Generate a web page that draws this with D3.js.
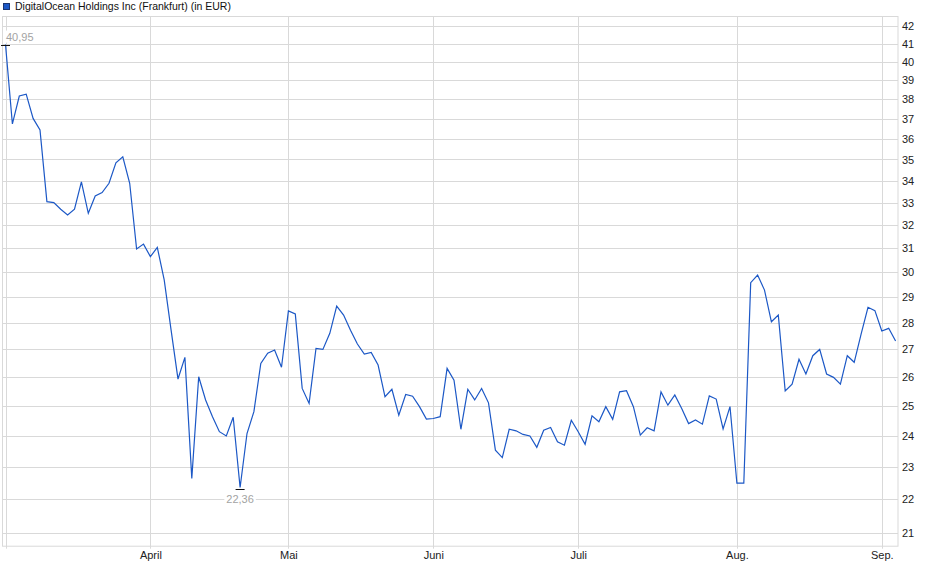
<!DOCTYPE html>
<html>
<head>
<meta charset="utf-8">
<script src="https://cdn.jsdelivr.net/npm/d3@7"></script>
<style>
  body { margin: 0; background: #fff; }
  text { font-family: "Liberation Sans", Arial, sans-serif; }
</style>
</head>
<body>
<div id="chart-area"></div>
<script>
/**
 * DigitalOcean Holdings Inc (Frankfurt), daily close in EUR.
 * One point per trading day, log price axis on the right.
 */

// Data -------------------------------------------------
const title = "DigitalOcean Holdings Inc (Frankfurt) (in EUR)"

const prices = [
  40.95, 36.74, 38.17, 38.27, 37.02, 36.44, 33.04, 33.00, 32.70, 32.45,
  32.70, 33.95, 32.52, 33.30, 33.45, 33.88, 34.84, 35.13, 33.88, 30.97,
  31.18, 30.65, 31.04, 29.69, 27.72, 25.93, 26.71, 22.64, 26.01, 25.20,
  24.63, 24.13, 23.99, 24.61, 22.36, 24.07, 24.80, 26.49, 26.86, 26.98,
  26.35, 28.46, 28.34, 25.60, 25.08, 27.04, 27.00, 27.60, 28.65, 28.30,
  27.72, 27.20, 26.83, 26.89, 26.43, 25.31, 25.57, 24.68, 25.39, 25.33,
  24.97, 24.55, 24.57, 24.63, 26.31, 25.89, 24.21, 25.57, 25.20, 25.60,
  25.10, 23.53, 23.29, 24.21, 24.16, 24.04, 23.99, 23.62, 24.18, 24.27,
  23.80, 23.69, 24.51, 24.13, 23.72, 24.66, 24.46, 24.97, 24.54, 25.48,
  25.52, 24.97, 24.02, 24.26, 24.16, 25.48, 25.02, 25.37, 24.91, 24.40,
  24.52, 24.38, 25.34, 25.23, 24.22, 24.97, 22.49, 22.49, 29.58, 29.89,
  29.28, 28.04, 28.30, 25.51, 25.75, 26.64, 26.11, 26.77, 27.00, 26.11,
  25.99, 25.75, 26.77, 26.53, 27.57, 28.60, 28.47, 27.69, 27.79, 27.31
]

// first trading day of each month (index into prices)
const monthIdx = [0, 21, 41, 62, 83, 106, 127]
const monthLabels = ["", "April", "Mai", "Juni", "Juli", "Aug.", "Sep."]

const yTicks = [21, 22, 23, 24, 25, 26, 27, 28, 29, 30, 31, 32, 33, 34, 35, 36, 37, 38, 39, 40, 41, 42]
const yDomain = [20.65, 42.58]

// Canvas setup -----------------------------------------
const W = 940, H = 579
const PLOT = {LEFT: 2.5, RIGHT: 898, TOP: 16, BOTTOM: 545.7}
const LINE_COLOR = "#1c58c6"
const GRID_COLOR = "#d9d9d9"

const svg = d3.select("#chart-area").append("svg")
    .attr("width", W)
    .attr("height", H)

// Scales -----------------------------------------------
const xScale = d3.scaleLinear()
    .domain([0, prices.length - 1])
    .range([5.5, 5.5 + (prices.length - 1) * 6.9])

const yScale = d3.scaleLog()
    .domain(yDomain)
    .range([PLOT.BOTTOM, PLOT.TOP])

// Grid -------------------------------------------------
svg.append("g")
    .selectAll("line")
    .data(yTicks)
    .join("line")
    .attr("x1", PLOT.LEFT)
    .attr("x2", PLOT.RIGHT)
    .attr("y1", d => Math.round(yScale(d)) + 0.5)
    .attr("y2", d => Math.round(yScale(d)) + 0.5)
    .attr("stroke", GRID_COLOR)

svg.append("g")
    .selectAll("line")
    .data(monthIdx)
    .join("line")
    .attr("x1", d => Math.round(xScale(d)) + 0.5)
    .attr("x2", d => Math.round(xScale(d)) + 0.5)
    .attr("y1", PLOT.TOP)
    .attr("y2", PLOT.BOTTOM + 3)
    .attr("stroke", GRID_COLOR)

// frame
svg.append("rect")
    .attr("x", PLOT.LEFT)
    .attr("y", PLOT.TOP + 0.5)
    .attr("width", PLOT.RIGHT - PLOT.LEFT)
    .attr("height", PLOT.BOTTOM - PLOT.TOP)
    .attr("fill", "none")
    .attr("stroke", GRID_COLOR)

// Axes labels ------------------------------------------
const yAxis = d3.axisRight(yScale)
    .tickValues(yTicks)
    .tickFormat(d3.format("d"))
    .tickSize(0)
    .tickPadding(4)

svg.append("g")
    .attr("class", "y-axis")
    .attr("transform", `translate(${PLOT.RIGHT},0)`)
    .call(yAxis)
    .call(g => g.select(".domain").remove())
    .selectAll("text")
    .attr("font-size", "11px")
    .attr("font-family", "Liberation Sans, Arial, sans-serif")
    .attr("fill", "#222")

const xAxis = d3.axisBottom(xScale)
    .tickValues(monthIdx)
    .tickFormat((d, i) => monthLabels[i])
    .tickSize(0)
    .tickPadding(6)

svg.append("g")
    .attr("class", "x-axis")
    .attr("transform", `translate(0,${PLOT.BOTTOM})`)
    .call(xAxis)
    .call(g => g.select(".domain").remove())
    .selectAll("text")
    .attr("font-size", "11px")
    .attr("font-family", "Liberation Sans, Arial, sans-serif")
    .attr("fill", "#222")

// Price line -------------------------------------------
const line = d3.line()
    .x((d, i) => xScale(i))
    .y(d => yScale(d))

svg.append("path")
    .attr("d", line(prices))
    .attr("fill", "none")
    .attr("stroke", LINE_COLOR)
    .attr("stroke-width", 1.2)

// High / low markers -----------------------------------
const hiIdx = d3.maxIndex(prices)
const loIdx = d3.minIndex(prices)
const fmt = v => v.toFixed(2).replace(".", ",")

function marker(i, dy) {
    const x = xScale(i), y = Math.round(yScale(prices[i]) + dy) + 0.5
    svg.append("line")
        .attr("x1", x - 4.5)
        .attr("x2", x + 4.5)
        .attr("y1", y)
        .attr("y2", y)
        .attr("stroke", "#111")
}
marker(hiIdx, 0)
marker(loIdx, 1.5)

function label(i, x, y, anchor) {
    const t = svg.append("text")
        .attr("x", x)
        .attr("y", y)
        .attr("text-anchor", anchor)
        .attr("font-size", "11px")
        .attr("fill", "#a3a3a3")
        .text(fmt(prices[i]))
    const b = t.node().getBBox()
    svg.insert("rect", () => t.node())
        .attr("x", b.x - 2)
        .attr("y", b.y)
        .attr("width", b.width + 4)
        .attr("height", b.height)
        .attr("fill", "#fff")
}
label(hiIdx, xScale(hiIdx) + 0.5, yScale(prices[hiIdx]) - 4, "start")
label(loIdx, xScale(loIdx), yScale(prices[loIdx]) + 15.5, "middle")

// Legend -----------------------------------------------
svg.append("rect")
    .attr("x", 3.5)
    .attr("y", 3.5)
    .attr("width", 6)
    .attr("height", 6)
    .attr("fill", LINE_COLOR)
    .attr("stroke", "#1b3570")

svg.append("text")
    .attr("x", 15)
    .attr("y", 10)
    .attr("font-size", "10.5px")
    .attr("fill", "#111")
    .text(title)
</script>
</body>
</html>
